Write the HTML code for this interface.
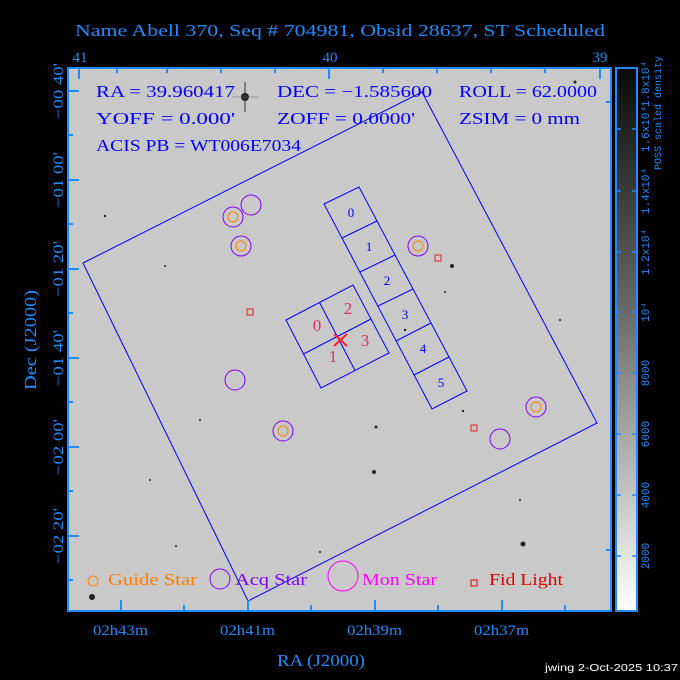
<!DOCTYPE html>
<html><head><meta charset="utf-8"><style>
body{margin:0;background:#000;}
svg{display:block;font-family:"Liberation Serif",serif;}
</style></head><body>
<svg width="680" height="680" viewBox="0 0 680 680" xmlns="http://www.w3.org/2000/svg">
<defs>
<clipPath id="c"><rect x="68" y="68" width="543" height="543"/></clipPath>
<linearGradient id="g" x1="0" y1="0" x2="0" y2="1"><stop offset="0" stop-color="#0a0a0a"/><stop offset="0.45" stop-color="#6a6a6a"/><stop offset="1" stop-color="#fff"/></linearGradient>
<filter id="n"><feTurbulence type="fractalNoise" baseFrequency="0.9" numOctaves="1" seed="3"/><feColorMatrix values="0 0 0 0 0.5 0 0 0 0 0.5 0 0 0 0 0.5 0 0 0 0.25 0"/></filter>
</defs>
<rect width="680" height="680" fill="#000"/>
<text x="75" y="36" fill="#1e8cff" font-size="17" textLength="530" lengthAdjust="spacingAndGlyphs">Name Abell 370, Seq # 704981, Obsid 28637, ST Scheduled</text>
<g clip-path="url(#c)">
<rect x="68" y="68" width="543" height="543" fill="#cbcbcb"/>
<rect x="68" y="68" width="543" height="543" filter="url(#n)"/>
<g fill="#222">
<circle cx="245" cy="97" r="4"/><circle cx="92" cy="597" r="3"/><circle cx="523" cy="544" r="2.5"/><circle cx="452" cy="266" r="2"/><circle cx="374" cy="472" r="2"/><circle cx="376" cy="427" r="1.5"/><circle cx="105" cy="216" r="1.2"/><circle cx="165" cy="266" r="1"/><circle cx="575" cy="82" r="1.5"/><circle cx="463" cy="411" r="1.2"/><circle cx="405" cy="330" r="1.2"/><circle cx="320" cy="552" r="1"/><circle cx="176" cy="546" r="1"/><circle cx="445" cy="292" r="1"/><circle cx="560" cy="320" r="1"/><circle cx="200" cy="420" r="1"/><circle cx="150" cy="480" r="1"/><circle cx="520" cy="500" r="1"/>
</g>
<line x1="245" y1="82" x2="245" y2="112" stroke="#333" stroke-width="1"/>
<line x1="232" y1="97" x2="258" y2="97" stroke="#666" stroke-width="0.6"/>
<g fill="none" stroke="#0000ff" stroke-width="1">
<polygon points="83,263 422,92 597,423 248,601"/>
<polygon points="324,204 359,187 467,391 432,409"/>
<line x1="342" y1="238" x2="377" y2="221"/><line x1="360" y1="272" x2="395" y2="255"/><line x1="378" y1="306" x2="413" y2="289"/><line x1="396" y1="341" x2="431" y2="323"/><line x1="414" y1="375" x2="449" y2="357"/>
<polygon points="286,320 353,285 389,353 321,388"/>
<line x1="319.5" y1="302.5" x2="355" y2="370.5"/><line x1="303.5" y1="354" x2="371" y2="319"/>
</g>
<g fill="#0000ff" font-size="13" text-anchor="middle">
<text x="351" y="217">0</text><text x="369" y="251">1</text><text x="387" y="285">2</text><text x="405" y="319">3</text><text x="423" y="353">4</text><text x="441" y="387">5</text>
</g>
<g fill="#e8286e" font-size="17" text-anchor="middle">
<text x="317" y="331">0</text><text x="348" y="314">2</text><text x="333" y="362">1</text><text x="365" y="346">3</text>
</g>
<g stroke="#ff2020" stroke-width="2"><line x1="334" y1="334" x2="347" y2="346"/><line x1="347" y1="334" x2="334" y2="346"/></g>
<g fill="none" stroke="#8000ff" stroke-width="1">
<circle cx="233" cy="217" r="10"/><circle cx="241" cy="246" r="10"/><circle cx="418" cy="246" r="10"/><circle cx="283" cy="431" r="10"/><circle cx="536" cy="407" r="10"/><circle cx="251" cy="205" r="10"/><circle cx="235" cy="380" r="10"/><circle cx="500" cy="439" r="10"/>
</g>
<g fill="none" stroke="#ff8000" stroke-width="1">
<circle cx="233" cy="217" r="5"/><circle cx="241" cy="246" r="5"/><circle cx="418" cy="246" r="5"/><circle cx="283" cy="431" r="5"/><circle cx="536" cy="407" r="5"/>
</g>
<g fill="none" stroke="#e02020" stroke-width="1">
<rect x="247" y="309" width="6" height="6"/><rect x="435" y="255" width="6" height="6"/><rect x="471" y="425" width="6" height="6"/>
</g>
<g fill="#0000ff" font-size="17" lengthAdjust="spacingAndGlyphs">
<text x="96" y="97" textLength="139" lengthAdjust="spacingAndGlyphs">RA = 39.960417</text><text x="277" y="97" textLength="155" lengthAdjust="spacingAndGlyphs">DEC = −1.585600</text><text x="459" y="97" textLength="138" lengthAdjust="spacingAndGlyphs">ROLL = 62.0000</text>
<text x="96" y="124" textLength="139" lengthAdjust="spacingAndGlyphs">YOFF =   0.000'</text><text x="277" y="124" textLength="138" lengthAdjust="spacingAndGlyphs">ZOFF =  0.0000'</text><text x="459" y="124" textLength="121" lengthAdjust="spacingAndGlyphs">ZSIM = 0 mm</text>
<text x="96" y="151" textLength="205" lengthAdjust="spacingAndGlyphs">ACIS PB = WT006E7034</text>
</g>
<circle cx="93" cy="581" r="5" fill="none" stroke="#ff8000"/>
<text x="108" y="585" fill="#ff8000" font-size="17" textLength="89" lengthAdjust="spacingAndGlyphs">Guide Star</text>
<circle cx="220" cy="579" r="10" fill="none" stroke="#8000ff"/>
<text x="235" y="585" fill="#8000ff" font-size="17" textLength="72" lengthAdjust="spacingAndGlyphs">Acq Star</text>
<circle cx="343" cy="576" r="15" fill="none" stroke="#ff00ff"/>
<text x="362" y="585" fill="#ff00ff" font-size="17" textLength="75" lengthAdjust="spacingAndGlyphs">Mon Star</text>
<rect x="471" y="580" width="6" height="6" fill="none" stroke="#e00000"/>
<text x="489" y="585" fill="#e00000" font-size="17" textLength="74" lengthAdjust="spacingAndGlyphs">Fid Light</text>
</g>
<rect x="68" y="68" width="543" height="543" fill="none" stroke="#1e8cff" stroke-width="2"/>
<g stroke="#1e8cff" stroke-width="2">
<line x1="79" y1="68" x2="79" y2="79"/><line x1="329" y1="68" x2="329" y2="79"/><line x1="600" y1="68" x2="600" y2="79"/>
<line x1="117" y1="68" x2="117" y2="73"/><line x1="167" y1="68" x2="167" y2="73"/><line x1="221" y1="68" x2="221" y2="73"/><line x1="275" y1="68" x2="275" y2="73"/><line x1="383" y1="68" x2="383" y2="73"/><line x1="437" y1="68" x2="437" y2="73"/><line x1="491" y1="68" x2="491" y2="73"/><line x1="545" y1="68" x2="545" y2="73"/>
<line x1="121" y1="611" x2="121" y2="600"/><line x1="248" y1="611" x2="248" y2="600"/><line x1="375" y1="611" x2="375" y2="600"/><line x1="502" y1="611" x2="502" y2="600"/>
<line x1="184" y1="611" x2="184" y2="605"/><line x1="311" y1="611" x2="311" y2="605"/><line x1="438" y1="611" x2="438" y2="605"/><line x1="565" y1="611" x2="565" y2="605"/>
<line x1="68" y1="91" x2="79" y2="91"/><line x1="68" y1="180" x2="79" y2="180"/><line x1="68" y1="269" x2="79" y2="269"/><line x1="68" y1="358" x2="79" y2="358"/><line x1="68" y1="447" x2="79" y2="447"/><line x1="68" y1="536" x2="79" y2="536"/>
<line x1="68" y1="135" x2="73" y2="135"/><line x1="68" y1="224" x2="73" y2="224"/><line x1="68" y1="313" x2="73" y2="313"/><line x1="68" y1="402" x2="73" y2="402"/><line x1="68" y1="491" x2="73" y2="491"/><line x1="68" y1="580" x2="73" y2="580"/>
<line x1="611" y1="102" x2="606" y2="102"/><line x1="611" y1="550" x2="606" y2="550"/>
</g>
<g fill="#1e8cff" font-size="15">
<text x="80" y="62" text-anchor="middle">41</text><text x="330" y="62" text-anchor="middle">40</text><text x="600" y="62" text-anchor="middle">39</text>
<text x="93" y="635" textLength="55" lengthAdjust="spacingAndGlyphs">02h43m</text><text x="220" y="635" textLength="55" lengthAdjust="spacingAndGlyphs">02h41m</text><text x="347" y="635" textLength="55" lengthAdjust="spacingAndGlyphs">02h39m</text><text x="474" y="635" textLength="55" lengthAdjust="spacingAndGlyphs">02h37m</text>
<text transform="translate(63,119) rotate(-90)" textLength="56" lengthAdjust="spacingAndGlyphs">−00 40'</text><text transform="translate(63,208) rotate(-90)" textLength="56" lengthAdjust="spacingAndGlyphs">−01 00'</text><text transform="translate(63,297) rotate(-90)" textLength="56" lengthAdjust="spacingAndGlyphs">−01 20'</text><text transform="translate(63,386) rotate(-90)" textLength="56" lengthAdjust="spacingAndGlyphs">−01 40'</text><text transform="translate(63,475) rotate(-90)" textLength="56" lengthAdjust="spacingAndGlyphs">−02 00'</text><text transform="translate(63,564) rotate(-90)" textLength="56" lengthAdjust="spacingAndGlyphs">−02 20'</text>
</g>
<text x="277" y="666" fill="#1e8cff" font-size="17" textLength="88" lengthAdjust="spacingAndGlyphs">RA (J2000)</text>
<text transform="translate(36,390) rotate(-90)" fill="#1e8cff" font-size="17" textLength="100" lengthAdjust="spacingAndGlyphs">Dec (J2000)</text>
<rect x="616" y="68" width="21" height="543" fill="url(#g)" stroke="#1e8cff" stroke-width="2"/>
<g stroke="#1e8cff" stroke-width="1.5">
<line x1="616" y1="556" x2="621" y2="556"/><line x1="632" y1="556" x2="637" y2="556"/>
<line x1="616" y1="495" x2="621" y2="495"/><line x1="632" y1="495" x2="637" y2="495"/>
<line x1="616" y1="434" x2="621" y2="434"/><line x1="632" y1="434" x2="637" y2="434"/>
<line x1="616" y1="373" x2="621" y2="373"/><line x1="632" y1="373" x2="637" y2="373"/>
<line x1="616" y1="312" x2="621" y2="312"/><line x1="632" y1="312" x2="637" y2="312"/>
<line x1="616" y1="252" x2="621" y2="252"/><line x1="632" y1="252" x2="637" y2="252"/>
<line x1="616" y1="191" x2="621" y2="191"/><line x1="632" y1="191" x2="637" y2="191"/>
<line x1="616" y1="129" x2="621" y2="129"/><line x1="632" y1="129" x2="637" y2="129"/>
</g>
<g fill="#1e8cff" font-size="11" font-family="Liberation Mono,monospace" text-anchor="middle">
<text transform="translate(649,556) rotate(-90)">2000</text><text transform="translate(649,495) rotate(-90)">4000</text><text transform="translate(649,434) rotate(-90)">6000</text><text transform="translate(649,373) rotate(-90)">8000</text><text transform="translate(649,312) rotate(-90)">10⁴</text><text transform="translate(649,252) rotate(-90)">1.2x10⁴</text><text transform="translate(649,191) rotate(-90)">1.4x10⁴</text><text transform="translate(649,129) rotate(-90)">1.6x10⁴</text><text transform="translate(649,84) rotate(-90)">1.8x10⁴</text>
<text transform="translate(661,113) rotate(-90)" font-size="10">POSS scaled density</text>
</g>
<text x="545" y="671" fill="#fff" font-size="10" font-family="Liberation Sans,sans-serif" textLength="133" lengthAdjust="spacingAndGlyphs">jwing  2-Oct-2025 10:37</text>
</svg>
</body></html>
